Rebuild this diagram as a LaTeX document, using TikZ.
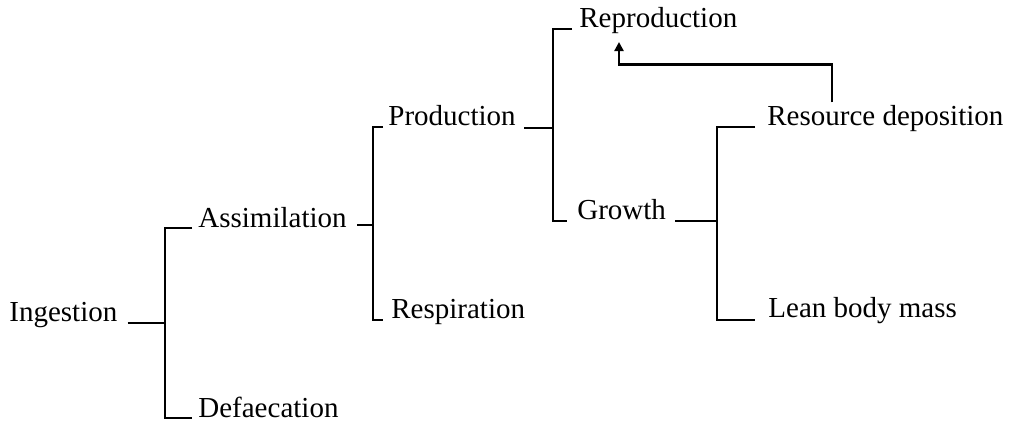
\documentclass[tikz,border=0pt]{standalone}
\usepackage{fontspec}
\setmainfont{Liberation Serif}
\usetikzlibrary{arrows.meta}

\begin{document}
\begin{tikzpicture}[x=0.5pt, y=-0.5pt,
    label/.style={inner sep=0pt, anchor=base west, font=\fontsize{14.5}{17}\selectfont},
    link/.style={draw=black, line width=1.3pt},
    feedback/.style={link, -{Triangle[length=4.5pt, width=4.5pt]}}]

    \useasboundingbox (0,0) rectangle (1013,425);

    % Energy budget levels
    \node[label] (ingest) at (9,321) {Ingestion};
    \node[label] (assim) at (198,227) {Assimilation};
    \node[label] (defae) at (198,417) {Defaecation};
    \node[label] (prod) at (388,125) {Production};
    \node[label] (resp) at (391,318) {Respiration};
    \node[label] (repro) at (579,27) {Reproduction};
    \node[label] (growth) at (577,219) {Growth};
    \node[label] (resdep) at (767,125) {Resource deposition};
    \node[label] (lean) at (768,317) {Lean body mass};

    % Branch points
    \coordinate (j1) at (165,323);
    \coordinate (j2) at (373,225);
    \coordinate (j3) at (553,128);
    \coordinate (j4) at (717,221);

    % Ingestion split
    \draw[link] ([xshift=5pt]ingest.base east |- j1) -- (j1);
    \draw[link] ([xshift=-3pt,yshift=-0.5pt]assim.base west) -| (j1) |- ([xshift=-3pt,yshift=-0.5pt]defae.base west);

    % Assimilation split
    \draw[link] ([xshift=5pt]assim.base east |- j2) -- (j2);
    \draw[link] ([xshift=-2.5pt,yshift=-1pt]prod.base west) -| (j2) |- ([xshift=-4pt,yshift=-1pt]resp.base west);

    % Production split
    \draw[link] ([xshift=4pt]prod.base east |- j3) -- (j3);
    \draw[link] ([xshift=-3.5pt,yshift=-1pt]repro.base west) -| (j3) |- ([xshift=-5pt,yshift=-1pt]growth.base west);

    % Growth split
    \draw[link] ([xshift=4.5pt]growth.base east |- j4) -- (j4);
    \draw[link] ([xshift=-6pt,yshift=-1pt]resdep.base west) -| (j4) |- ([xshift=-6.5pt,yshift=-1.5pt]lean.base west);

    % Resource deposition back to reproduction
    \draw[feedback] ([xshift=32.5pt,yshift=1pt]resdep.north west) -- ++(0,-38) -| ([xshift=20pt,yshift=-7.5pt]repro.base west);

\end{tikzpicture}
\end{document}
